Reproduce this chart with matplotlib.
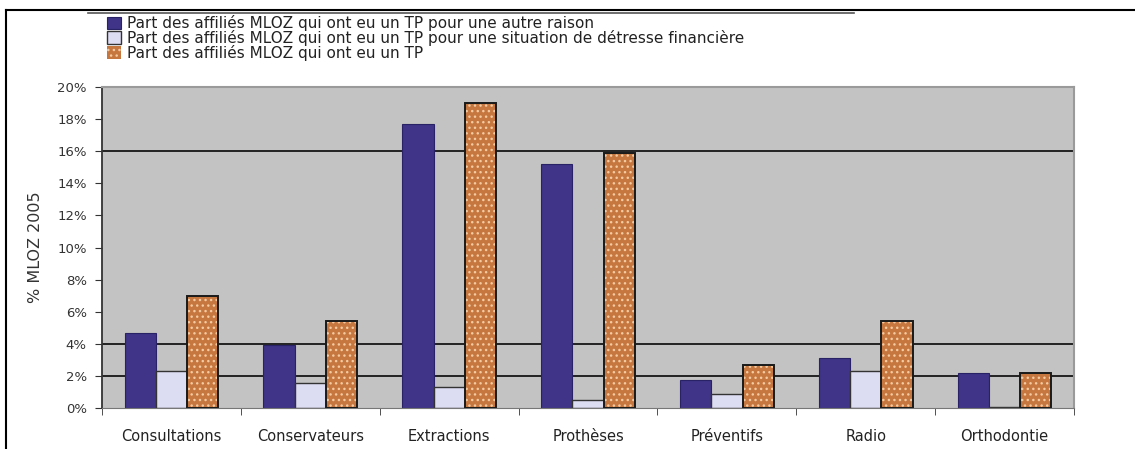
import numpy as np
import matplotlib
matplotlib.use("Agg")
import matplotlib.pyplot as plt
from matplotlib.lines import Line2D

plt.rcParams['font.family'] = ['DejaVu Sans']

# données
categories = ['Consultations', 'Conservateurs', 'Extractions', 'Prothèses',
              'Préventifs', 'Radio', 'Orthodontie']
autre_raison = [4.7, 3.9, 17.7, 15.2, 1.75, 3.1, 2.2]
detresse = [2.3, 1.55, 1.3, 0.5, 0.9, 2.3, 0.05]
total_tp = [7.0, 5.4, 19.0, 15.9, 2.7, 5.4, 2.2]
labels = ['Part des affiliés MLOZ qui ont eu un TP pour une autre raison',
          'Part des affiliés MLOZ qui ont eu un TP pour une situation de détresse financière',
          'Part des affiliés MLOZ qui ont eu un TP']
yticks = list(range(0, 21, 2))
grid_levels = [2, 4, 16]

fig = plt.figure(figsize=(11.35, 4.49), dpi=100)
ax = fig.add_axes([0.0899, 0.0913, 0.8564, 0.7149])
ax.set_facecolor('#c3c3c3')

x = np.arange(len(categories))
w = 0.225

for g in grid_levels:
    ax.axhline(g, color='#222222', lw=1.4, zorder=1)

b1 = ax.bar(x - w, autre_raison, w, color='#3f3487', edgecolor='#2a2266', lw=0.8,
            label=labels[0], zorder=2)
b2 = ax.bar(x, detresse, w, color='#dcdcf2', edgecolor='#333333', lw=1.0,
            label=labels[1], zorder=2)
b3 = ax.bar(x + w, total_tp, w, color='#c6763f', edgecolor='#f4caa0', hatch='...',
            lw=0, label=labels[2], zorder=2)
ax.bar(x + w, total_tp, w, color='none', edgecolor='#1a1a1a', lw=1.4, zorder=3)

ax.set_xlim(-0.5, len(categories) - 0.5)
ax.set_ylim(0, 20)
ax.set_yticks(yticks)
ax.set_yticklabels([f'{t}%' for t in yticks], fontsize=9.5, color='#333333')
ax.set_xticks(x)
ax.set_xticklabels(categories, fontsize=10.5, color='#222222')
ax.set_xticks(np.arange(-0.5, len(categories)), minor=True)
ax.tick_params(axis='x', which='major', length=0, pad=15)
ax.tick_params(axis='x', which='minor', length=5, direction='out', color='#333333')
ax.tick_params(axis='y', length=5, direction='out', color='#333333', pad=6)
ax.set_ylabel('% MLOZ 2005', fontsize=11.5, color='#333333', labelpad=10)

for s in ['top', 'right']:
    ax.spines[s].set_color('#9a9a9a')
    ax.spines[s].set_linewidth(1.5)
ax.spines['left'].set_color('#333333')
ax.spines['bottom'].set_color('#777777')
ax.spines['left'].set_linewidth(1.3)

fig.legend(handles=[b1, b2, b3], labels=labels, loc='upper left',
           bbox_to_anchor=(0.085, 0.99), frameon=False, fontsize=11,
           handlelength=0.9, handleheight=0.9, handletextpad=0.4,
           labelspacing=-0.08, borderpad=0.2, labelcolor='#222222')

# cadre extérieur
fig.add_artist(Line2D([0.0053, 1.0], [0.9777, 0.9777], color='black', lw=1.5))
fig.add_artist(Line2D([0.0053, 0.0053], [0.0, 0.9777], color='black', lw=1.5))
fig.add_artist(Line2D([0.0775, 0.752], [0.972, 0.972], color='#555555', lw=1.2))

fig.savefig('out.png', dpi=100)
